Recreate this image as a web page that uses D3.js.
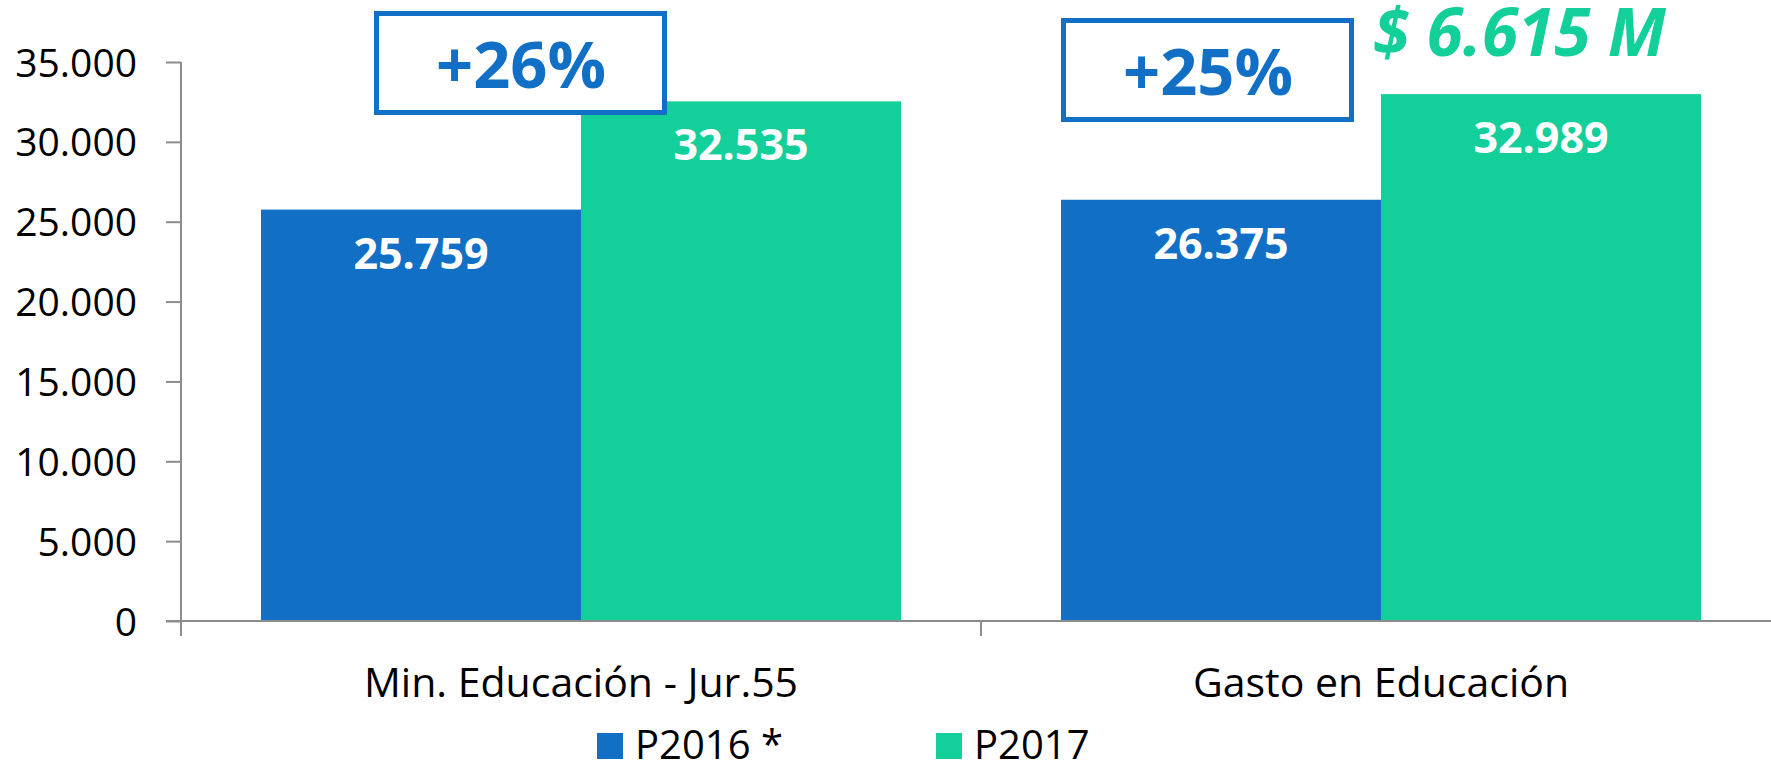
<!DOCTYPE html>
<html>
<head>
<meta charset="utf-8">
<script src="https://cdn.jsdelivr.net/npm/d3@7"></script>
<style>
  body { margin: 0; background: #fff; }
  text { font-family: "Open Sans", "Noto Sans", sans-serif; }
</style>
</head>
<body>
<div class="bar-chart"></div>
<script>
const categories = ["Min. Educación - Jur.55", "Gasto en Educación"];
const seriesNames = ["P2016 *", "P2017"];
const p2016 = [25759, 26375];
const p2017 = [32535, 32989];
const yTicks = [0, 5000, 10000, 15000, 20000, 25000, 30000, 35000];
const growthLabels = ["+26%", "+25%"];
const totalLabel = "$ 6.615 M";

const colors = ["#1170c6", "#13cf9a"];
const axisColor = "#8c8c8c";

const esLocale = d3.formatLocale({
  decimal: ",",
  thousands: ".",
  grouping: [3],
  currency: ["$", ""],
});
const fmt = esLocale.format(",d");

const width = 1771;
const height = 762;
const plot = { left: 181, top: 62, bottom: 621 };

const svg = d3
  .select(".bar-chart")
  .append("svg")
  .attr("width", width)
  .attr("height", height);

const xScale = d3
  .scaleBand()
  .domain(categories)
  .range([plot.left, plot.left + 1600])
  .paddingInner(0.2)
  .paddingOuter(0.1);

const xSeries = d3
  .scaleBand()
  .domain(seriesNames)
  .range([0, xScale.bandwidth()]);

const yScale = d3
  .scaleLinear()
  .domain([0, 35000])
  .range([plot.bottom, plot.top]);

// one row per bar
const bars = [];
categories.forEach((c, i) => {
  bars.push({ cat: c, series: seriesNames[0], value: p2016[i], color: colors[0] });
  bars.push({ cat: c, series: seriesNames[1], value: p2017[i], color: colors[1] });
});

svg
  .selectAll(".bar")
  .data(bars)
  .enter()
  .append("rect")
  .attr("class", "bar")
  .attr("x", (d) => xScale(d.cat) + xSeries(d.series))
  .attr("y", (d) => yScale(d.value))
  .attr("width", xSeries.bandwidth())
  .attr("height", (d) => yScale(0) - yScale(d.value))
  .attr("fill", (d) => d.color);

svg
  .selectAll(".bar-label")
  .data(bars)
  .enter()
  .append("text")
  .attr("class", "bar-label")
  .attr("x", (d) => xScale(d.cat) + xSeries(d.series) + xSeries.bandwidth() / 2)
  .attr("y", (d) => yScale(d.value) + 59)
  .attr("text-anchor", "middle")
  .attr("fill", "#fff")
  .style("font-size", "43px")
  .style("font-weight", "bold")
  .text((d) => fmt(d.value));

// y axis
const yAxis = svg
  .append("g")
  .attr("transform", "translate(" + plot.left + ",0)")
  .call(
    d3.axisLeft(yScale).tickValues(yTicks).tickSize(15).tickPadding(29).tickFormat(fmt)
  );
yAxis.select(".domain").attr("stroke", axisColor).attr("stroke-width", 2)
  .attr("d", "M0," + plot.top + "V" + (plot.bottom + 15));
yAxis.selectAll(".tick line").attr("stroke", axisColor).attr("stroke-width", 2);
yAxis.selectAll(".tick text")
  .attr("fill", "#000")
  .style("font-size", "39px")
  .style("font-family", "'Open Sans', sans-serif")
  .attr("dy", "0.36em");

// x axis
svg
  .append("line")
  .attr("x1", plot.left - 15)
  .attr("x2", width)
  .attr("y1", yScale(0))
  .attr("y2", yScale(0))
  .attr("stroke", axisColor)
  .attr("stroke-width", 2);

svg
  .selectAll(".cat-sep")
  .data(categories.slice(1))
  .enter()
  .append("line")
  .attr("class", "cat-sep")
  .attr("x1", (d) => xScale(d) - xScale.step() * xScale.paddingInner() / 2)
  .attr("x2", (d) => xScale(d) - xScale.step() * xScale.paddingInner() / 2)
  .attr("y1", yScale(0))
  .attr("y2", yScale(0) + 15)
  .attr("stroke", axisColor)
  .attr("stroke-width", 2);

svg
  .selectAll(".cat-label")
  .data(categories)
  .enter()
  .append("text")
  .attr("class", "cat-label")
  .attr("x", (d) => xScale(d) + xScale.bandwidth() / 2)
  .attr("y", 697)
  .attr("text-anchor", "middle")
  .attr("fill", "#000")
  .style("font-size", "41px")
  .text((d) => d);

// growth boxes
const boxOffsets = [113, 0];
const boxTops = [11, 18];
categories.forEach((c, i) => {
  const bx = xScale(c) + boxOffsets[i];
  const g = svg.append("g").attr("transform", "translate(" + bx + "," + boxTops[i] + ")");
  g.append("rect")
    .attr("x", 2.5)
    .attr("y", 2.5)
    .attr("width", 288)
    .attr("height", 99)
    .attr("fill", "#fff")
    .attr("stroke", colors[0])
    .attr("stroke-width", 5);
  g.append("text")
    .attr("x", 147)
    .attr("y", 77)
    .attr("text-anchor", "middle")
    .attr("fill", colors[0])
    .style("font-size", "65px")
    .style("font-weight", "bold")
    .text(growthLabels[i]);
});

// total difference label
svg
  .append("text")
  .attr("x", xScale(categories[1]) + xSeries(seriesNames[1]) - 8)
  .attr("y", 56)
  .attr("fill", colors[1])
  .style("font-size", "66px")
  .style("font-weight", "bold")
  .style("font-style", "italic")
  .text(totalLabel);

// legend
const legend = svg
  .selectAll(".legend")
  .data(seriesNames)
  .enter()
  .append("g")
  .attr("class", "legend")
  .attr("transform", (d, i) => "translate(" + [597, 936][i] + ",733)");

legend
  .append("rect")
  .attr("width", 26)
  .attr("height", 26)
  .attr("fill", (d, i) => colors[i]);

legend
  .append("text")
  .attr("x", 38)
  .attr("y", 26)
  .attr("fill", "#000")
  .style("font-size", "40px")
  .text((d) => d);
</script>
</body>
</html>
